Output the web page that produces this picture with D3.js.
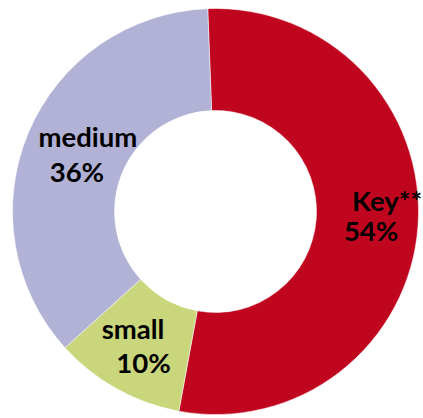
<!DOCTYPE html>
<html>
<head>
<meta charset="utf-8">
<script src="https://cdn.jsdelivr.net/npm/d3@7"></script>
<style>
  html, body { margin: 0; padding: 0; background: #fff; }
  svg { display: block; }
  .lbl { font-family: Lato, "Open Sans", sans-serif; font-weight: bold; fill: #000; }
</style>
</head>
<body>
<div id="chart"></div>
<script>
// Chart data
const categories = ["Key**", "small", "medium"];
const shares = [53.5, 10.4, 36.1];
const percentLabels = ["54%", "10%", "36%"];
const sliceColors = ["#c0061e", "#c9d67b", "#b1b2d6"];

const width = 423, height = 418;
const cx = 215.5, cy = 211.5;
const outerR = 203, innerR = 101;

const svg = d3.select("#chart").append("svg")
    .attr("width", width)
    .attr("height", height);

const g = svg.append("g").attr("transform", `translate(${cx},${cy})`);

const data = categories.map((c, i) => ({ name: c, value: shares[i], label: percentLabels[i], color: sliceColors[i] }));

// first slice rotated slightly counter-clockwise from 12 o'clock
const start = -2.2 * Math.PI / 180;
const pie = d3.pie()
    .sort(null)
    .value(d => d.value)
    .startAngle(start)
    .endAngle(start + 2 * Math.PI);

const arc = d3.arc().innerRadius(innerR).outerRadius(outerR);
const labelArc = d3.arc().innerRadius(152).outerRadius(152);

const arcs = pie(data);

g.selectAll("path.slice")
    .data(arcs)
    .join("path")
    .attr("class", "slice")
    .attr("d", arc)
    .attr("fill", d => d.data.color)
    .attr("stroke", "#fff")
    .attr("stroke-width", 0.5);

// per-label nudges from the slice centroid: [dx1, dy1, dx2, dy2]
const nudge = {
    "Key**": [20, -11, 4, 19],
    "small": [-8.5, -5, 2, 29],
    "medium": [12.5, -6, 1.5, 29]
};

arcs.forEach(d => {
    const [x, y] = labelArc.centroid(d);
    const n = nudge[d.data.name];
    g.append("text")
        .attr("class", "lbl")
        .attr("x", x + n[0])
        .attr("y", y + n[1])
        .attr("text-anchor", "middle")
        .style("font-size", "27.5px")
        .text(d.data.name);
    g.append("text")
        .attr("class", "lbl")
        .attr("x", x + n[2])
        .attr("y", y + n[3])
        .attr("text-anchor", "middle")
        .style("font-size", "27.5px")
        .text(d.data.label);
});
</script>
</body>
</html>
